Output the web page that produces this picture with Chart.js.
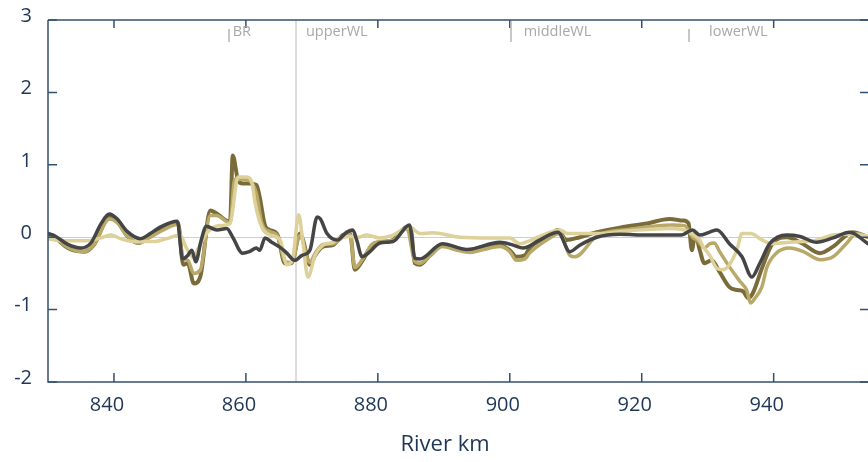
<!DOCTYPE html>
<html>
<head>
<meta charset="utf-8">
<script src="https://cdn.jsdelivr.net/npm/chart.js@4.4.1/dist/chart.umd.min.js"></script>
<style>
  html, body { margin: 0; padding: 0; background: #fff; }
  #wrap { width: 868px; height: 462px; }
</style>
</head>
<body>
<div id="wrap"><canvas id="chart" width="868" height="462"></canvas></div>
<script>
// difference profiles along the river (km vs. value)
const grayKm = [830, 831, 833, 835, 836.5, 838, 839.3, 840.5, 842, 844, 845.5, 847, 849.6, 850.4, 851.2, 851.8, 852.4, 853.2, 854, 855.6,
  857.1, 858, 859.5, 860.5, 861.6, 862.1, 862.9, 863.9, 865.2, 866.2, 867.4, 868.5, 869.7, 870.8, 871.3, 872.3, 873.8, 875.3, 876.2, 876.8,
  877.6, 878.8, 880.3, 882.3, 884.8, 885.6, 886.4, 889.8, 893.5, 898.5, 900.5, 902, 904.5, 907.3, 909.1, 910.6, 913.2, 916.7, 920.8, 926,
  927.7, 928.8, 930.3, 931.4, 933.3, 935.2, 936.7, 937.9, 939.4, 942, 944, 946.5, 949, 951.5, 954.3];
const grayVal = [0.05, 0.02, -0.1, -0.15, -0.08, 0.18, 0.32, 0.25, 0.08, -0.02, 0.05, 0.14, 0.22, -0.3, -0.25, -0.18, -0.34, -0.05, 0.15, 0.1,
  0.12, 0, -0.22, -0.2, -0.15, -0.18, -0.01, -0.07, -0.14, -0.22, -0.32, -0.25, -0.18, 0.28, 0.25, 0.05, -0.04, 0.07, 0.1, -0.04,
  -0.27, -0.2, -0.08, -0.06, 0.17, -0.29, -0.3, -0.09, -0.17, -0.07, -0.11, -0.15, -0.04, 0.07, -0.2, -0.11, 0, 0.04, 0.03, 0.03,
  0.1, 0.03, 0.07, 0.1, -0.09, -0.27, -0.55, -0.36, -0.09, 0.03, 0.01, -0.07, -0.01, 0.07, -0.09];

const lightKm = [830, 832, 836, 838, 839.5, 841, 843, 846, 848, 850, 851, 852, 852.8, 854, 856, 857.6, 858.8, 860.1, 860.9, 861.4,
  862.4, 863.6, 865.2, 866.2, 867.1, 868, 868.6, 869.4, 870.5, 871.7, 873.2, 874.5, 875.8, 877, 878.3, 880.3, 882.3, 884.8, 886.4, 888.3,
  892.4, 897.4, 900, 901.5, 903, 904.5, 907.6, 908.8, 913.2, 918.2, 924.2, 926, 927.5, 928.8, 929.3, 930.3, 931.4, 932.3, 933.3, 934.4,
  935.2, 936.5, 938.3, 939.7, 942.4, 946.5, 949, 951.5, 954.3];
const lightVal = [-0.02, -0.05, -0.05, -0.01, 0.03, -0.02, -0.06, -0.06, -0.02, 0.03, -0.15, -0.28, -0.15, 0.05, 0.16, 0.19, 0.83, 0.83, 0.76, 0.47,
  0.14, 0.03, -0.04, -0.38, -0.29, 0.31, -0.04, -0.55, -0.25, -0.11, -0.07, 0, 0.01, 0, 0.03, -0.01, 0.03, 0.14, 0.05, 0.06,
  0, -0.01, -0.01, -0.09, -0.05, 0.01, 0.1, 0.05, 0.05, 0.09, 0.12, 0.11, 0.05, -0.04, -0.13, -0.25, -0.43, -0.45, -0.38, -0.18,
  0.05, 0.05, -0.04, -0.09, -0.07, -0.04, 0.03, 0.04, 0.02];

const midKm = [830, 831, 833, 835.5, 837, 839.3, 840.5, 842, 843.7, 845.5, 847.5, 849.7, 850.5, 851.2, 852.1, 853.1, 854.6, 855.5, 857.6, 858.3,
  859.5, 860.8, 861.6, 862.4, 863.6, 864.8, 865.9, 866.9, 868.2, 869.7, 870.5, 871.7, 873.2, 874.7, 875.8, 876.5, 877.7, 879.1, 880.3, 882.3,
  884.4, 885.6, 886.4, 887.9, 889.8, 892, 894, 896, 898.5, 900, 901, 902.3, 903, 905.6, 907.6, 909.1, 909.9, 913.2, 918.2, 924.7,
  926.5, 927.7, 928.5, 929.5, 930.3, 931, 931.8, 933.3, 934.8, 935.9, 936.5, 937.1, 938.2, 939, 940.4, 942.4, 944.5, 947, 949, 951,
  952.6, 954.3];
const midVal = [0.03, 0, -0.14, -0.2, -0.1, 0.25, 0.2, 0.02, -0.08, 0, 0.1, 0.18, -0.3, -0.32, -0.5, -0.45, 0.3, 0.3, 0.2, 0.8,
  0.8, 0.76, 0.6, 0.2, 0.08, 0.02, -0.33, -0.35, 0.02, -0.35, -0.22, -0.1, -0.09, 0, 0.04, -0.42, -0.3, -0.1, -0.06, -0.04,
  0.12, -0.33, -0.36, -0.26, -0.13, -0.18, -0.21, -0.17, -0.13, -0.2, -0.32, -0.3, -0.22, -0.04, 0.05, -0.25, -0.27, 0.02, 0.11, 0.17,
  0.16, 0, -0.05, -0.15, -0.09, -0.08, -0.2, -0.41, -0.6, -0.73, -0.91, -0.85, -0.69, -0.41, -0.22, -0.15, -0.2, -0.31, -0.27, -0.09,
  0.05, 0];

const oliveKm = [830, 831, 833, 835.5, 837, 839.3, 840.5, 842, 843.7, 845.5, 847.5, 849.7, 850.5, 851.2, 852.1, 853.1, 854.6, 855.5, 857.6, 858,
  858.8, 859.5, 860.5, 861.6, 862.1, 862.9, 863.6, 864.8, 865.9, 866.9, 868.2, 868.7, 869.7, 870.5, 871.7, 873.2, 874.7, 875.8, 876.5, 877.7,
  879.1, 880.3, 882.3, 883, 884.4, 885, 885.6, 886.4, 887.9, 889.8, 892, 893.5, 896, 898.5, 900, 901, 902.3, 903, 905.6, 907.3,
  908.6, 910.6, 913.2, 917.1, 920.8, 924.2, 926.2, 927.1, 927.6, 928.1, 928.8, 929.5, 930.6, 931.8, 933.3, 934.5, 935.4, 936.1, 936.8, 938.3,
  939.8, 942, 944.4, 947, 949, 952, 954.3];
const oliveVal = [0.05, 0, -0.15, -0.2, -0.1, 0.28, 0.22, 0.02, -0.08, 0.02, 0.14, 0.2, -0.38, -0.36, -0.64, -0.54, 0.37, 0.33, 0.21, 1.13,
  0.79, 0.74, 0.74, 0.72, 0.55, 0.16, 0.1, 0.03, -0.36, -0.36, 0.05, -0.05, -0.38, -0.25, -0.13, -0.11, 0.03, 0.05, -0.45, -0.32,
  -0.11, -0.07, -0.04, 0.03, 0.14, 0.12, -0.36, -0.38, -0.25, -0.11, -0.15, -0.19, -0.13, -0.11, -0.18, -0.27, -0.25, -0.15, 0, 0.1,
  -0.04, 0, 0.07, 0.14, 0.19, 0.25, 0.23, 0.19, -0.18, 0.05, -0.18, -0.36, -0.32, -0.48, -0.69, -0.73, -0.75, -0.84, -0.78, -0.41,
  -0.09, 0, -0.09, -0.22, -0.13, 0.07, 0];

const xTicks = [840, 860, 880, 900, 920, 940];
const yTicks = [-2, -1, 0, 1, 2, 3];

// reach markers along the top edge
const reachNames = ['BR', 'upperWL', 'middleWL', 'lowerWL'];
const reachMarkKm = [857.4, 867.6, 900.2, 927.1];
const reachTextKm = [858.0, 869.1, 902.1, 930.2];
const reachBoundaryKm = 867.6;

const FONT = "'Open Sans', sans-serif";
const NAVY = '#1e3655';
const AXIS = '#34506f';

function pairs(xs, ys) {
  return xs.map((x, i) => ({ x: x, y: ys[i] }));
}

const frame = {
  id: 'frame',
  beforeDatasetsDraw(chart) {
    const { ctx, chartArea: a, scales: { x, y } } = chart;
    ctx.save();
    ctx.lineWidth = 1;
    ctx.strokeStyle = '#cfcfcf';
    const y0 = Math.round(y.getPixelForValue(0)) + 0.5;
    ctx.beginPath();
    ctx.moveTo(a.left, y0);
    ctx.lineTo(a.right, y0);
    ctx.stroke();
    ctx.lineWidth = 2;
    ctx.strokeStyle = '#dcdcdc';
    const xb = x.getPixelForValue(reachBoundaryKm);
    ctx.beginPath();
    ctx.moveTo(xb, a.top);
    ctx.lineTo(xb, a.bottom);
    ctx.stroke();
    ctx.restore();
  },
  afterDraw(chart) {
    const { ctx, chartArea: a, scales: { x, y } } = chart;
    ctx.save();
    ctx.strokeStyle = AXIS;
    ctx.lineWidth = 1.5;
    ctx.beginPath();
    ctx.moveTo(a.left, a.top);
    ctx.lineTo(a.right, a.top);
    ctx.moveTo(a.left, a.top);
    ctx.lineTo(a.left, a.bottom);
    ctx.lineTo(a.right, a.bottom);
    ctx.stroke();
    // inward ticks on all four sides
    ctx.beginPath();
    xTicks.forEach(v => {
      const px = x.getPixelForValue(v);
      ctx.moveTo(px, a.bottom);
      ctx.lineTo(px, a.bottom - 9);
      ctx.moveTo(px, a.top);
      ctx.lineTo(px, a.top + 8);
    });
    yTicks.forEach(v => {
      const py = y.getPixelForValue(v);
      ctx.moveTo(a.left, py);
      ctx.lineTo(a.left + 9, py);
      ctx.moveTo(a.right, py);
      ctx.lineTo(a.right - 8, py);
    });
    ctx.stroke();

    // axis title, set a little left of the plot centre
    ctx.fillStyle = NAVY;
    ctx.font = '22px ' + FONT;
    ctx.textAlign = 'center';
    ctx.textBaseline = 'middle';
    ctx.fillText('River km', (a.left + a.right) / 2 - 13, 445);

    // reach labels
    ctx.strokeStyle = '#b4b4b4';
    ctx.lineWidth = 1.5;
    ctx.fillStyle = '#a8a8a8';
    ctx.font = '14.5px ' + FONT;
    ctx.textAlign = 'left';
    reachNames.forEach((name, i) => {
      const mx = Math.round(x.getPixelForValue(reachMarkKm[i]));
      if (reachMarkKm[i] !== reachBoundaryKm) {
        const top = name === 'middleWL' ? a.top + 1 : a.top + 9;
        ctx.beginPath();
        ctx.moveTo(mx, top);
        ctx.lineTo(mx, a.top + 22);
        ctx.stroke();
      }
      ctx.fillText(name, x.getPixelForValue(reachTextKm[i]), a.top + 12);
    });
    ctx.restore();
  }
};

function line(label, data, color, width) {
  return {
    label: label,
    data: data,
    borderColor: color,
    backgroundColor: color,
    borderWidth: width,
    pointRadius: 0,
    fill: false,
    cubicInterpolationMode: 'monotone',
    borderJoinStyle: 'round',
    borderCapStyle: 'round'
  };
}

new Chart(document.getElementById('chart'), {
  type: 'line',
  data: {
    datasets: [
      line('gray', pairs(grayKm, grayVal), '#454545', 3.5),
      line('light', pairs(lightKm, lightVal), '#ddd199', 3.5),
      line('mid', pairs(midKm, midVal), '#b8a969', 3.5),
      line('olive', pairs(oliveKm, oliveVal), '#7a6c3a', 4)
    ]
  },
  options: {
    responsive: false,
    animation: false,
    layout: { padding: { top: 11, right: 0, bottom: 0, left: 0 } },
    plugins: {
      legend: { display: false },
      tooltip: { enabled: false }
    },
    scales: {
      x: {
        type: 'linear',
        min: 830,
        max: 954.3,
        afterBuildTicks: s => { s.ticks = xTicks.map(v => ({ value: v })); },
        afterFit: s => { s.height = 80; },
        grid: { display: false },
        border: { display: false },
        ticks: { color: NAVY, padding: 3, labelOffset: -7, font: { family: FONT, size: 20 } }
      },
      y: {
        min: -2,
        max: 3,
        afterBuildTicks: s => { s.ticks = yTicks.map(v => ({ value: v })); },
        afterFit: s => { s.width = 48; },
        grid: { display: false },
        border: { display: false },
        ticks: { color: NAVY, padding: 8, labelOffset: -4, font: { family: FONT, size: 20 } }
      }
    }
  },
  plugins: [frame]
});
</script>
</body>
</html>
